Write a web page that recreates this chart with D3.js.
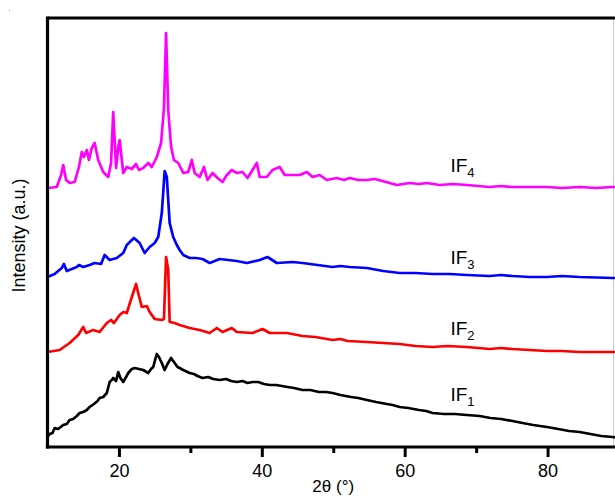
<!DOCTYPE html>
<html>
<head>
<meta charset="utf-8">
<script src="https://cdn.jsdelivr.net/npm/d3@7/dist/d3.min.js"></script>
<style>
  html, body { margin: 0; padding: 0; background: #fff; }
  svg { display: block; font-family: "Liberation Sans", Arial, Helvetica, sans-serif; }
</style>
</head>
<body>
<svg id="chart" width="615" height="497"></svg>
<script>
// ---- data: [2θ (°), intensity (a.u.)] ----
const if1 = [[10.0,10],[10.3,13],[10.7,14],[11.0,19],[11.5,18],[12.2,22],[12.7,23],[13.1,27],[13.6,28],[14.1,31],[14.5,34],[15.0,35],[15.5,37],[15.9,40],[16.5,43],[17.0,46],[17.3,49],[17.8,50],[18.3,54],[18.7,65],[19.0,67],[19.2,69],[19.6,66],[19.9,75],[20.2,69],[20.6,65],[21.0,70],[21.3,74],[21.8,78],[22.2,79],[22.8,78],[23.4,77],[24.1,74],[24.5,78],[24.8,80],[25.1,88],[25.3,93],[25.6,90],[26.0,84],[26.4,77],[26.8,83],[27.3,89],[27.8,84],[28.2,80],[28.5,79],[29.0,77],[29.9,74],[30.5,73],[31.0,71],[31.7,69],[32.5,70],[33.2,68],[34.1,67],[35.0,68],[35.7,66],[36.5,65],[37.3,66],[38.0,64],[38.7,65],[39.5,65],[40.3,63],[41.1,62],[42.0,62],[42.8,61],[43.6,60],[44.5,59],[45.7,57],[46.8,57],[48.0,55],[49.0,55],[49.9,54],[51.0,52],[52.5,50],[53.5,49],[54.7,47],[56.0,45],[57.5,43],[58.3,42],[59.3,40],[60.5,39],[62.0,37],[63.0,36],[63.9,34],[65.5,33],[67.0,33],[68.7,32],[70.5,31],[72.0,29],[73.5,28],[75.1,26],[76.5,24],[78.0,22],[79.9,20],[81.5,18],[83.0,16],[84.5,15],[86.0,13],[87.5,11],[89.1,10],[90.0,9]];

const if2 = [[10.0,95],[11.7,97],[13.1,104],[14.3,112],[15.0,120],[15.4,114],[16.4,117],[17.3,115],[18.3,124],[18.9,127],[19.3,124],[20.1,132],[20.6,135],[21.1,134],[21.8,150],[22.4,163],[22.7,154],[23.2,140],[23.9,141],[24.3,135],[25.0,128],[26.0,127],[26.3,128],[26.6,190],[26.9,177],[27.1,125],[27.8,124],[28.5,122],[29.9,119],[31.3,117],[32.7,114],[33.7,119],[34.5,115],[35.8,119],[36.5,115],[38.7,114],[40.1,118],[41.1,114],[43.5,114],[45.7,111],[47.5,110],[49.9,107],[51.0,108],[52.0,106],[54.7,105],[57.0,104],[59.3,103],[61.5,101],[63.9,100],[66.0,101],[68.7,100],[71.9,98],[73.5,99],[75.1,98],[77.5,97],[79.9,96],[82.0,96],[84.5,95],[89.1,95],[90.0,95]];

const if3 = [[10.0,170],[11.0,173],[12.0,179],[12.3,183],[12.7,176],[13.4,178],[14.1,180],[14.4,182],[15.0,180],[15.9,182],[16.6,184],[17.5,183],[18.0,192],[18.7,187],[19.7,189],[20.6,194],[21.1,202],[22.1,209],[22.9,204],[23.6,194],[24.3,200],[25.0,204],[25.5,210],[26.0,234],[26.4,276],[26.7,270],[27.1,224],[27.6,210],[28.1,202],[28.5,197],[29.0,192],[29.9,189],[30.8,189],[31.7,188],[32.7,184],[34.1,188],[35.3,187],[36.5,186],[37.9,184],[39.7,187],[40.8,190],[42.1,184],[44.3,185],[45.7,184],[47.8,182],[49.9,180],[51.0,181],[52.3,180],[54.7,179],[57.0,176],[59.3,174],[61.5,174],[63.9,173],[66.3,173],[68.7,172],[71.9,171],[73.5,172],[75.1,171],[77.5,170],[79.9,170],[82.0,171],[84.5,170],[89.1,169],[90.0,169]];

const if4 = [[10.0,259],[11.3,260],[11.9,272],[12.2,282],[12.6,267],[13.1,264],[13.8,265],[14.4,280],[14.8,295],[15.1,290],[15.5,297],[15.8,287],[16.2,299],[16.6,304],[17.1,287],[17.8,275],[18.5,270],[18.9,284],[19.2,335],[19.6,279],[19.9,300],[20.1,307],[20.6,274],[21.1,280],[21.8,278],[22.4,283],[22.8,277],[23.4,279],[24.1,284],[24.6,280],[25.3,290],[25.9,304],[26.3,339],[26.6,414],[26.9,337],[27.3,300],[27.7,287],[28.3,284],[29.0,274],[29.7,275],[30.2,287],[30.6,274],[31.3,270],[31.9,280],[32.4,267],[33.1,274],[33.8,269],[34.5,265],[35.1,272],[35.8,277],[36.5,274],[37.3,275],[38.0,269],[39.3,284],[39.7,270],[40.7,270],[41.5,277],[42.5,280],[43.2,272],[44.3,272],[45.3,272],[46.3,275],[47.1,270],[48.1,272],[49.1,267],[50.5,269],[51.5,267],[52.3,269],[53.5,267],[54.7,267],[55.8,268],[56.9,266],[58.9,262],[60.7,264],[62.0,263],[63.1,264],[64.9,262],[66.8,263],[68.7,262],[70.3,261],[71.9,260],[73.5,261],[75.1,260],[77.5,260],[79.9,260],[82.0,259],[84.5,260],[86.8,259],[89.1,260],[90.0,260]];

const seriesNames = ["IF1", "IF2", "IF3", "IF4"];
const seriesColors = ["#000000", "#ff0000", "#0000ff", "#ff00ff"];
const seriesLabelY = [46, 112, 183, 275];   // label baseline intensity (a.u.)
const labelX = 66.4;                         // label position in 2θ
const majorTicks = [20, 40, 60, 80];
const minorTicks = [30, 50, 70, 90];
const xTitle = "2θ (°)";
const yTitle = "Intensity (a.u.)";

// ---- layout ----
const svg = d3.select("#chart");
const mLeft = 47.5, mRight = 619, mTop = 18, mBottom = 447;
const x = d3.scaleLinear().domain([10, 90]).range([mLeft, mRight]);
const y = d3.scaleLinear().domain([0, 429]).range([mBottom, mTop]);

// tiny dot artifact at top-left
svg.append("rect").attr("x", 9).attr("y", 10).attr("width", 1).attr("height", 1).attr("fill", "#888");

// right light border
svg.append("line").attr("x1", 613.5).attr("x2", 613.5).attr("y1", mTop).attr("y2", mBottom)
  .attr("stroke", "#c8c8c8").attr("stroke-width", 1);

// curves
const line = d3.line().x(d => x(d[0])).y(d => y(d[1]));
const data = [if1, if2, if3, if4];
data.forEach((s, i) => {
  svg.append("path").datum(s)
    .attr("d", line)
    .attr("fill", "none")
    .attr("stroke", seriesColors[i])
    .attr("stroke-width", 2.7)
    .attr("stroke-linejoin", "round")
    .attr("stroke-linecap", "round");
});

// frame: top and left
svg.append("line").attr("x1", mLeft).attr("x2", 615).attr("y1", mTop).attr("y2", mTop)
  .attr("stroke", "#000").attr("stroke-width", 3.2);
svg.append("line").attr("x1", mLeft).attr("x2", mLeft).attr("y1", mTop - 1.6).attr("y2", mBottom + 1.6)
  .attr("stroke", "#000").attr("stroke-width", 3.2);

// bottom axis
const gMajor = svg.append("g").attr("transform", `translate(0,${mBottom})`)
  .call(d3.axisBottom(x).tickValues(majorTicks).tickSize(10).tickPadding(7).tickFormat(d3.format("d")));
gMajor.select(".domain").remove();
gMajor.selectAll(".tick line").attr("stroke", "#000").attr("stroke-width", 3);
gMajor.selectAll(".tick text").attr("font-size", 18).attr("fill", "#000")
  .attr("font-family", "'Liberation Sans', Arial, sans-serif");

const gMinor = svg.append("g").attr("transform", `translate(0,${mBottom})`)
  .call(d3.axisBottom(x).tickValues(minorTicks).tickSize(6).tickFormat(""));
gMinor.select(".domain").remove();
gMinor.selectAll(".tick line").attr("stroke", "#000").attr("stroke-width", 3);

svg.append("line").attr("x1", mLeft - 1.6).attr("x2", 615).attr("y1", mBottom).attr("y2", mBottom)
  .attr("stroke", "#000").attr("stroke-width", 3.2);

// axis titles
svg.append("text").attr("x", (mLeft + mRight) / 2).attr("y", 492)
  .attr("text-anchor", "middle").attr("font-size", 17).attr("fill", "#000").text(xTitle);
svg.append("text").attr("transform", `translate(25,${(mTop + mBottom) / 2 + 3}) rotate(-90)`)
  .attr("text-anchor", "middle").attr("font-size", 18).attr("fill", "#000").text(yTitle);

// series labels with subscripts
seriesNames.forEach((n, i) => {
  const t = svg.append("text").attr("x", x(labelX)).attr("y", y(seriesLabelY[i]))
    .attr("font-size", 19).attr("fill", "#000");
  t.append("tspan").text(n.slice(0, 2));
  t.append("tspan").attr("font-size", 13).attr("dy", 5).text(n.slice(2));
});
</script>
</body>
</html>
